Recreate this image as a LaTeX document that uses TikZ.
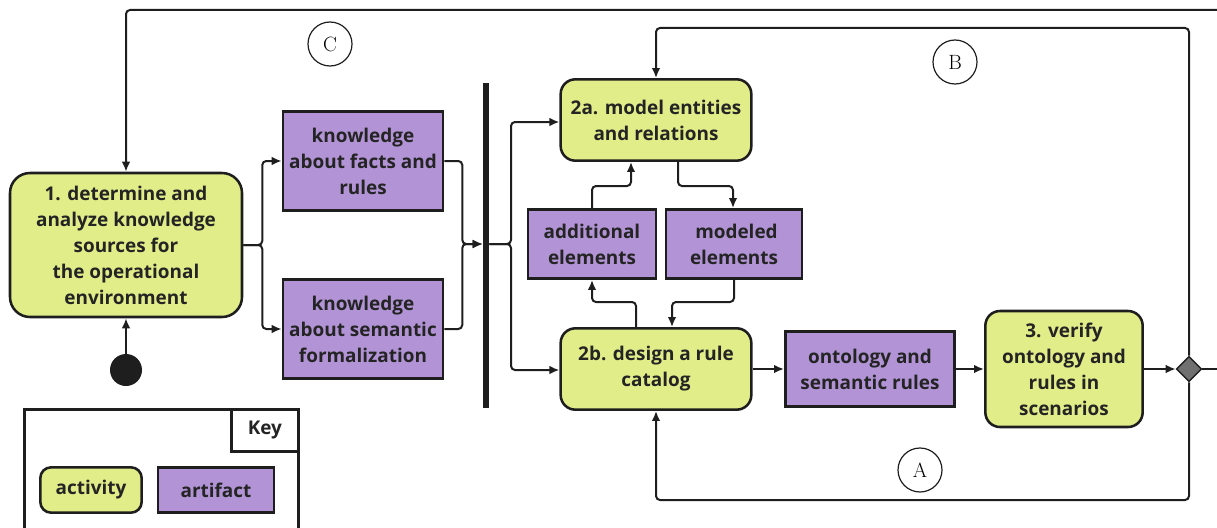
\documentclass[tikz,border=0pt]{standalone}
\usepackage{fontspec}
\newfontfamily\nsans{Open Sans}
\usetikzlibrary{arrows.meta,shapes.geometric}
\definecolor{actgreen}{RGB}{225,237,137}
\definecolor{artpurple}{RGB}{178,148,214}
\definecolor{ink}{RGB}{30,30,30}
\definecolor{txt}{RGB}{36,36,36}
\tikzset{
  base/.style={draw=ink,line width=1.9pt,align=center,inner sep=0pt,
    font=\nsans\bfseries\fontsize{14.2}{19.5}\selectfont,text=txt},
  activity/.style={base,fill=actgreen,rounded corners=11pt},
  artifact/.style={base,fill=artpurple},
  conn/.style={draw=ink,line width=1.5pt,rounded corners=3pt,-{Latex[length=7.5pt,width=6.5pt]}},
  plain/.style={draw=ink,line width=1.5pt,rounded corners=3pt},
  loopmark/.style={draw=ink,circle,line width=0.9pt,minimum size=33pt,inner sep=0pt,font=\fontsize{15.5}{18}\selectfont}
}
\begin{document}
\begin{tikzpicture}[x=0.75pt,y=-0.75pt]
\useasboundingbox (0,0) rectangle (1217,528);
% activities
\node[activity,minimum width=174pt,minimum height=108pt,rounded corners=15pt] (n1) at (126,245)
  {1. determine and\\analyze knowledge\\sources for\\the operational\\environment};
\node[activity,minimum width=143pt,minimum height=61pt] (n2a) at (656,120) {2a. model entities\\and relations};
\node[activity,minimum width=143pt,minimum height=61pt] (n2b) at (656,369) {2b. design a rule\\catalog};
\node[activity,minimum width=118pt,minimum height=87pt] (n3) at (1064,369) {3. verify\\ontology and\\rules in\\scenarios};
% artifacts
\node[artifact,minimum width=120pt,minimum height=74pt] (k1) at (363,161) {knowledge\\about facts and\\rules};
\node[artifact,minimum width=120pt,minimum height=74pt] (k2) at (363,329) {knowledge\\about semantic\\formalization};
\node[artifact,minimum width=96pt,minimum height=52pt] (ae) at (592,244) {additional\\elements};
\node[artifact,minimum width=102pt,minimum height=52pt] (me) at (734,244) {\ modeled\\elements};
\node[artifact,minimum width=127pt,minimum height=56pt] (on) at (870,369) {ontology and\\semantic rules};
% start, bar, decision
\node[circle,fill=ink,minimum size=24pt,inner sep=0pt] (start) at (126,370) {};
\node[fill=ink,minimum width=4.5pt,minimum height=244pt,inner sep=0pt] (bar) at (486,245.5) {};
\node[diamond,draw=ink,fill=gray!75!black!90,line width=1pt,minimum size=19pt,inner sep=0pt,aspect=1] (dec) at (1189,369) {};
% loop marks
\node[loopmark] (lc) at (330,44) {C};
\node[loopmark] (lb) at (955,62) {B};
\node[loopmark] (la) at (920,470) {A};
% connectors
\draw[conn] (start) -- (n1.south);
\draw[conn] (n1.east) -- ++(19,0) |- (k1.west);
\draw[conn] (n1.east) -- ++(19,0) |- (k2.west);
\coordinate (barin) at (bar.west |- 0,244);
\coordinate (barout) at (bar.east |- 0,244);
\draw[conn] (k1.east) -- ++(18,0) |- (barin);
\draw[conn] (k2.east) -- ++(18,0) |- (barin);
\draw[conn] (barout) -- (511,244) |- (n2a.west |- 0,122);
\draw[conn] (barout) -- (511,244) |- (n2b.west |- 0,370);
\draw[conn] (n2a.south -| 678,0) -- (678,186) -| (me.north -| 733,0);
\draw[conn] (ae.north) -- (592,186) -| (n2a.south -| 631,0);
\draw[conn] (n2b.north -| 636,0) -- (636,302) -| (ae.south);
\draw[conn] (me.south) -- (734,302) -| (n2b.north -| 672,0);
\draw[conn] (n2b.east) -- (on.west);
\draw[conn] (on.east) -- (n3.west);
\draw[conn] (n3.east) -- (dec.west);
\draw[conn] (dec.north) -- (1189,28) -| (n2a.north);
\draw[conn] (dec.south) -- (1189,500) -| (n2b.south);
\draw[plain] (dec.east) -- (1217,369);
\draw[conn] (1217,10) -| (n1.north);
% key
\node[draw=ink,line width=1.9pt,minimum width=205.5pt,minimum height=100pt,inner sep=0pt,anchor=north west] (keybox) at (23,408) {};
\node[draw=ink,line width=1.9pt,minimum width=50pt,minimum height=31.5pt,inner sep=0pt,anchor=north east,
  font=\nsans\bfseries\fontsize{14.2}{16}\selectfont,text=txt] (keylbl) at (keybox.north east) {Key};
\node[activity,minimum width=76pt,minimum height=34pt,rounded corners=8pt] (kact) at (91,490) {activity};
\node[artifact,minimum width=87pt,minimum height=34pt] (kart) at (216,490) {artifact};
\end{tikzpicture}
\end{document}
